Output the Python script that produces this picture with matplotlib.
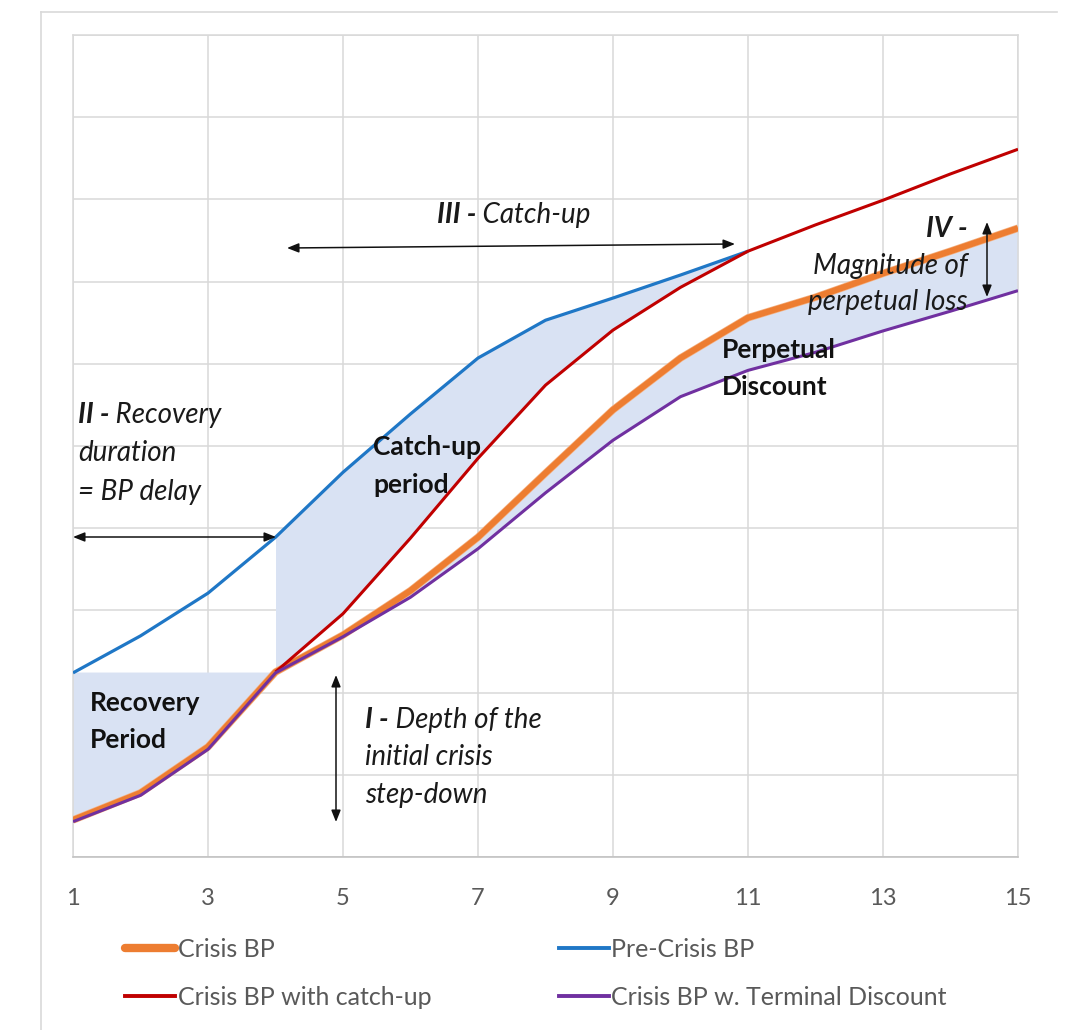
import matplotlib
matplotlib.use("Agg")
import matplotlib.pyplot as plt
import matplotlib.patheffects as pe
from matplotlib.lines import Line2D
import numpy as np

plt.rcParams['font.family'] = ['Lato', 'DejaVu Sans']

# ---------------- data ----------------
years = list(range(1, 16))
pre_crisis_x = list(range(1, 12))
pre_crisis = [2.24, 2.69, 3.21, 3.89, 4.68, 5.39, 6.07, 6.53, 6.80, 7.08, 7.37]
catchup_x = list(range(4, 16))
crisis_catchup = [2.25, 2.96, 3.88, 4.85, 5.74, 6.41, 6.93, 7.37, 7.69, 7.99, 8.31, 8.61]
crisis = [0.45, 0.78, 1.34, 2.25, 2.70, 3.24, 3.89, 4.67, 5.44, 6.07, 6.56, 6.81, 7.10, 7.37, 7.65]
terminal = [0.43, 0.75, 1.31, 2.24, 2.68, 3.16, 3.75, 4.43, 5.07, 5.60, 5.92, 6.14, 6.40, 6.64, 6.89]
tick_labels = ['1', '3', '5', '7', '9', '11', '13', '15']
series_names = ['Crisis BP', 'Pre-Crisis BP', 'Crisis BP with catch-up', 'Crisis BP w. Terminal Discount']

# ---------------- style ----------------
C_ORANGE = '#ED7D31'
C_BLUE = '#1f77c6'
C_RED = '#C00000'
C_PURPLE = '#7030A0'
C_FILL = '#d9e2f3'
C_GRID = '#d9d9d9'
C_TXT = '#595959'

fig = plt.figure(figsize=(10.72, 10.30), dpi=100)
ax = fig.add_axes([73/1072, 1-857/1030, (1018-73)/1072, (857-35)/1030])

x = np.array(years, dtype=float)
cr = np.array(crisis)
tm = np.array(terminal)
pcx = np.array(pre_crisis_x, dtype=float)
pc = np.array(pre_crisis)
cux = np.array(catchup_x, dtype=float)
cu = np.array(crisis_catchup)

# shaded areas
m_rec = x <= 4
ax.fill_between(x[m_rec], cr[m_rec], cr[3], color=C_FILL, lw=0, zorder=1)
ax.fill_between(pcx[3:], pc[3:], cu[:len(pcx) - 3], color=C_FILL, lw=0, zorder=1)
m_perp = x >= 4
ax.fill_between(x[m_perp], cr[m_perp], tm[m_perp], color=C_FILL, lw=0, zorder=1)

# lines
ax.plot(pcx, pc, color=C_BLUE, lw=2.3, zorder=3, solid_capstyle='butt')
ax.plot(x, cr, color=C_ORANGE, lw=4.4, zorder=3, solid_capstyle='butt',
        path_effects=[pe.Stroke(linewidth=5.4, foreground='#f4b183'), pe.Normal()])
ax.plot(cux, cu, color=C_RED, lw=2.2, zorder=4, solid_capstyle='butt')
ax.plot(x, tm, color=C_PURPLE, lw=2.2, zorder=4, solid_capstyle='butt')

# axes
ax.set_xlim(1, 15)
ax.set_ylim(0, 10)
ax.set_xticks(np.arange(1, 16, 2))
ax.set_xticklabels(tick_labels)
ax.set_yticks(np.arange(0, 11, 1))
ax.set_yticklabels([])
ax.grid(True, which='major', color=C_GRID, lw=1.1, zorder=0)
ax.tick_params(which='both', length=0)
ax.tick_params(axis='x', pad=22, labelsize=17, labelcolor=C_TXT)
for s in ax.spines.values():
    s.set_color(C_GRID)
    s.set_linewidth(1.1)
ax.spines['bottom'].set_color('#bfbfbf')
ax.set_axisbelow(True)

# outer frame
fig.add_artist(Line2D([41/1072, 41/1072], [0, 1-12/1030], color=C_GRID, lw=1.2))
fig.add_artist(Line2D([41/1072, 1057/1072], [1-12/1030, 1-12/1030], color=C_GRID, lw=1.2))

# ---------------- annotations ----------------
def px2d(px, py):
    return 1 + (px - 73) / 67.5, (857 - py) / 82.2

fig.canvas.draw()
renderer = fig.canvas.get_renderer()

def mixed(px, py, parts, size=20, ha='left'):
    """parts: list of (text, weight, style)"""
    texts = []
    xd, yd = px2d(px, py)
    cur = ax.transData.transform((xd, yd))
    widths = []
    for (t, w, s) in parts:
        tt = ax.text(0, 0, t, fontsize=size, fontweight=w, fontstyle=s,
                     color='#1a1a1a', va='center', ha='left', zorder=6)
        widths.append(tt.get_window_extent(renderer).width)
        texts.append(tt)
    total = sum(widths)
    start = cur[0] - (total if ha == 'right' else 0)
    inv = ax.transData.inverted()
    for tt, wdt in zip(texts, widths):
        tt.set_position(inv.transform((start, cur[1])))
        start += wdt
    return texts

BI = ('bold', 'italic')
IT = ('normal', 'italic')

# II
mixed(78, 415, [('II -', *BI), (' Recovery', *IT)])
mixed(78, 453, [('duration', *IT)])
mixed(78, 492, [('= BP delay', *IT)])
# III
mixed(437, 215, [('III -', *BI), (' Catch-up', *IT)])
# IV
mixed(968, 229, [('IV -', *BI)], ha='right')
mixed(968, 266, [('Magnitude of', *IT)], ha='right')
mixed(968, 302, [('perpetual loss', *IT)], ha='right')
# I
mixed(365, 720, [('I -', *BI), (' Depth of the', *IT)])
mixed(365, 757, [('initial crisis', *IT)])
mixed(365, 795, [('step-down', *IT)])
# bold labels
for (lx, ly, t) in [(373, 447, 'Catch-up'), (373, 485, 'period'),
                    (722, 350, 'Perpetual'), (722, 387, 'Discount'),
                    (90, 703, 'Recovery'), (90, 740, 'Period')]:
    xd, yd = px2d(lx, ly)
    ax.text(xd, yd, t, fontsize=19, fontweight='bold', color='#111111',
            va='center', ha='left', zorder=6)

# arrows
arrow_kw = dict(arrowstyle='<|-|>,head_length=0.7,head_width=0.28', color='#111111', lw=1.1,
                shrinkA=0, shrinkB=0)
for (a, b) in [((73, 537), (276, 537)), ((287, 248), (735, 244)),
               ((987, 222), (987, 297)), ((336, 675), (336, 822))]:
    ax.annotate('', xy=px2d(*b), xytext=px2d(*a), arrowprops=arrow_kw, zorder=6,
                annotation_clip=False)

# legend
handles = [Line2D([], [], color=C_ORANGE, lw=6, solid_capstyle='round'),
           Line2D([], [], color=C_RED, lw=2.8),
           Line2D([], [], color=C_BLUE, lw=2.8),
           Line2D([], [], color=C_PURPLE, lw=2.8)]
labels = [series_names[0], series_names[2], series_names[1], series_names[3]]
leg = fig.legend(handles, labels, ncol=2, loc='upper left',
                 bbox_to_anchor=(125/1072, 1-938/1030), frameon=False,
                 fontsize=18, handlelength=2.0, handletextpad=0.1,
                 labelspacing=1.0, columnspacing=5.1, borderpad=0, borderaxespad=0)
for t in leg.get_texts():
    t.set_color(C_TXT)

fig.savefig('out.png', dpi=100, facecolor='white')
